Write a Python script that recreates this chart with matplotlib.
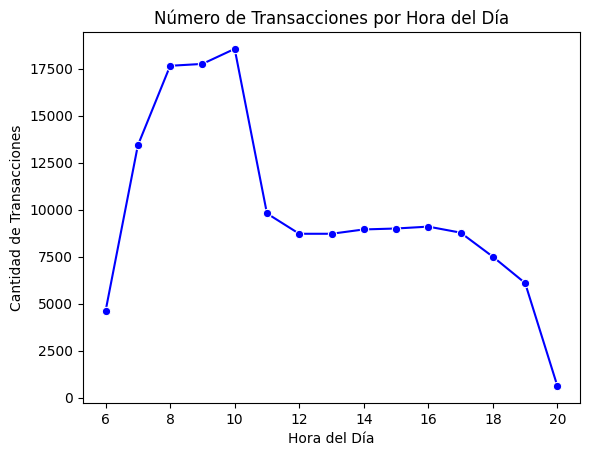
import matplotlib
matplotlib.use("Agg")
import matplotlib.pyplot as plt
import seaborn as sns

# Datos
horas = [6, 7, 8, 9, 10, 11, 12, 13, 14, 15, 16, 17, 18, 19, 20]
transacciones = [4620, 13420, 17650, 17750, 18550, 9800, 8720, 8720, 8950,
                 9000, 9100, 8780, 7500, 6100, 620]

fig = plt.figure(figsize=(5.89, 4.55), dpi=100)
ax = fig.add_axes([83 / 589, 52 / 455, 497 / 589, 371 / 455])

sns.lineplot(x=horas, y=transacciones, marker="o", color="blue", ax=ax)

ax.set_title("Número de Transacciones por Hora del Día")
ax.set_xlabel("Hora del Día")
ax.set_ylabel("Cantidad de Transacciones")

fig.savefig("out.png", dpi=100)
plt.close(fig)
